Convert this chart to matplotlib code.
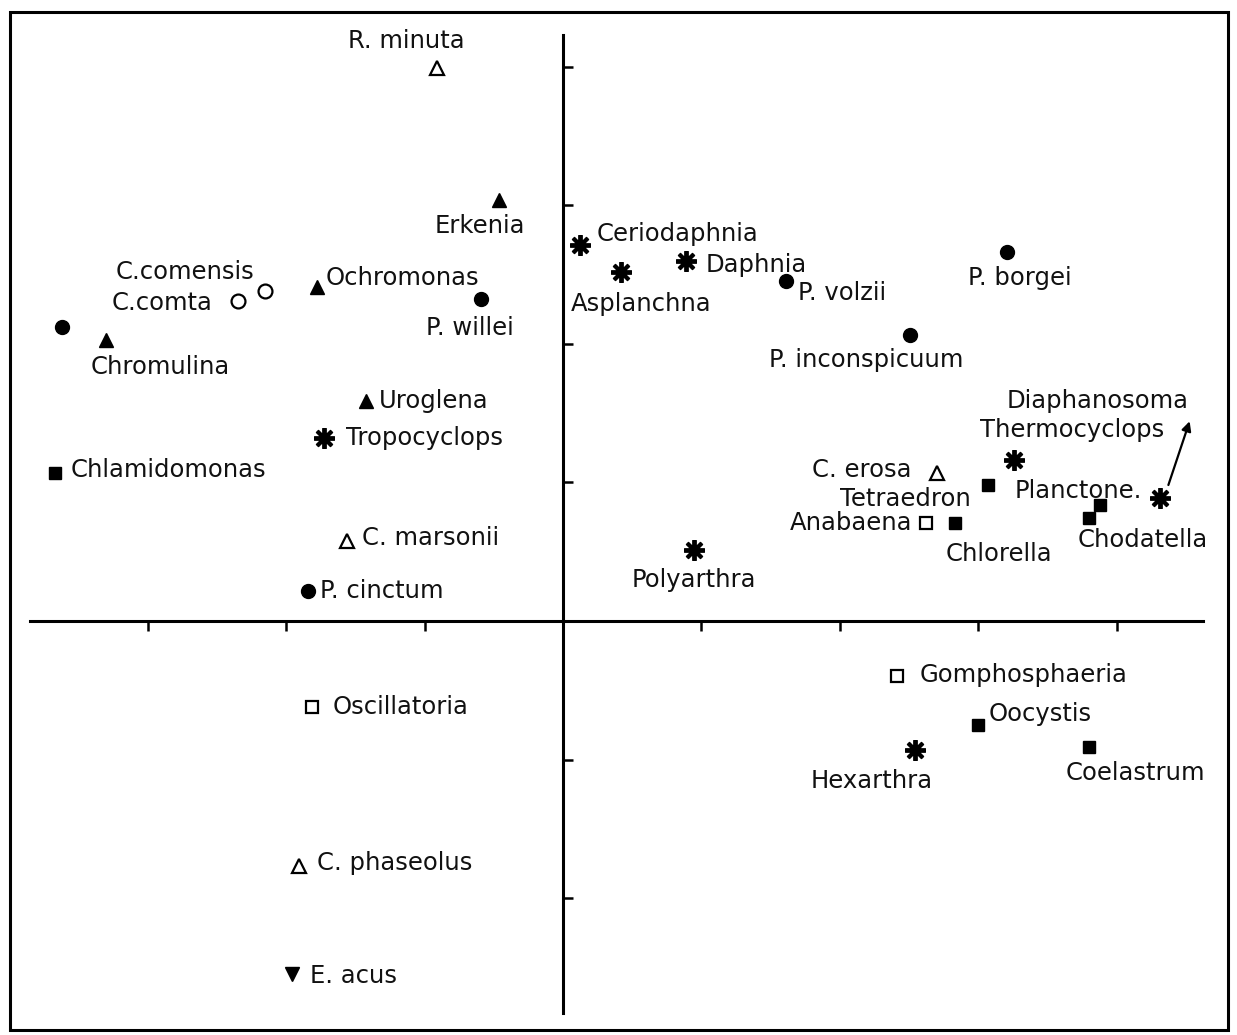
import matplotlib
matplotlib.use("Agg")
import matplotlib.pyplot as plt
from matplotlib.patches import Rectangle

# ---------------- data (ordination scores) ----------------
names = ["", "P. willei", "P. volzii", "P. borgei", "P. inconspicuum", "P. cinctum",
         "C.comensis", "C.comta",
         "Erkenia", "Ochromonas", "Chromulina", "Uroglena",
         "R. minuta", "C. marsonii", "C. erosa", "C. phaseolus",
         "Chlamidomonas", "Tetraedron", "Chlorella", "Planctone.", "Chodatella", "Oocystis", "Coelastrum",
         "Anabaena", "Gomphosphaeria", "Oscillatoria",
         "Ceriodaphnia", "Asplanchna", "Daphnia", "Tropocyclops", "Thermocyclops", "Diaphanosoma",
         "Polyarthra", "Hexarthra",
         "E. acus"]
axis1 = [-3.62, -0.59, 1.61, 3.21, 2.51, -1.84,
         -2.15, -2.35,
         -0.46, -1.78, -3.30, -1.42,
         -0.91, -1.56, 2.70, -1.91,
         -3.67, 3.07, 2.83, 3.88, 3.80, 3.00, 3.80,
         2.62, 2.41, -1.81,
         0.12, 0.42, 0.89, -1.73, 3.26, 4.31,
         0.95, 2.54,
         -1.96]
axis2 = [2.12, 2.32, 2.45, 2.66, 2.06, 0.22,
         2.38, 2.31,
         3.04, 2.41, 2.03, 1.59,
         3.99, 0.58, 1.07, -1.77,
         1.07, 0.98, 0.71, 0.84, 0.74, -0.75, -0.91,
         0.71, -0.40, -0.62,
         2.71, 2.52, 2.60, 1.32, 1.16, 0.89,
         0.51, -0.93,
         -2.55]
groups = ["dino"] * 6 + ["opencirc"] * 2 + ["chryso"] * 4 + ["opentri"] * 4 + \
         ["chloro"] * 7 + ["cyano"] * 3 + ["zoo"] * 8 + ["eugl"]

# ---------------- styles / layout ----------------
styles = {
    "dino":     dict(marker="o", ms=10, mfc="black", mec="black", mew=1),
    "opencirc": dict(marker="o", ms=10, mfc="white", mec="black", mew=1.6),
    "chryso":   dict(marker="^", ms=10, mfc="black", mec="black", mew=1),
    "opentri":  dict(marker="^", ms=10, mfc="white", mec="black", mew=1.6),
    "chloro":   dict(marker="s", ms=8, mfc="black", mec="black", mew=1),
    "cyano":    dict(marker="s", ms=9, mfc="white", mec="black", mew=1.6),
    "zoo":      dict(marker=(8, 2, 0), ms=15, mfc="black", mec="black", mew=2.8),
    "eugl":     dict(marker="v", ms=10, mfc="black", mec="black", mew=1),
}
# label offsets in pixels (dx, dy up) and horizontal alignment
label_pos = {
    "P. willei": (-55, -29, "left"), "P. volzii": (12, -12, "left"),
    "P. borgei": (-39, -26, "left"), "P. inconspicuum": (-141, -25, "left"),
    "P. cinctum": (12, 0, "left"), "C.comensis": (-11, 19, "right"),
    "C.comta": (-25, -2, "right"), "Erkenia": (-19, -26, "center"),
    "Ochromonas": (9, 9, "left"), "Chromulina": (-16, -27, "left"),
    "Uroglena": (12, 0, "left"), "R. minuta": (-31, 27, "center"),
    "C. marsonii": (15, 3, "left"), "C. erosa": (-25, 3, "right"),
    "C. phaseolus": (18, 3, "left"), "Chlamidomonas": (16, 3, "left"),
    "Tetraedron": (-17, -14, "right"), "Chlorella": (-9, -31, "left"),
    "Planctone.": (-85, 14, "left"), "Chodatella": (-11, -22, "left"),
    "Oocystis": (10, 11, "left"), "Coelastrum": (-23, -26, "left"),
    "Anabaena": (-13, 0, "right"), "Gomphosphaeria": (23, 1, "left"),
    "Oscillatoria": (20, 0, "left"), "Ceriodaphnia": (17, 11, "left"),
    "Asplanchna": (-50, -32, "left"), "Daphnia": (19, -4, "left"),
    "Tropocyclops": (22, 0, "left"), "Thermocyclops": (-34, 30, "left"),
    "Diaphanosoma": (-153, 97, "left"), "Polyarthra": (-63, -30, "left"),
    "Hexarthra": (-104, -31, "left"), "E. acus": (18, -2, "left"),
}

W, H = 1237, 1035
ox, oy = 563, 621          # origin in pixels
sx, sy = 138.4, 138.6      # pixels per unit
PT = 0.72                  # points per pixel at dpi 100

plt.rcParams["font.family"] = ["DejaVu Sans"]
fig = plt.figure(figsize=(W / 100, H / 100), dpi=100)
ax = fig.add_axes([0, 0, 1, 1])
ax.set_xlim(-ox / sx, (W - ox) / sx)
ax.set_ylim(-(H - oy) / sy, oy / sy)

for n, x, y, g in zip(names, axis1, axis2, groups):
    ax.plot([x], [y], linestyle="none", zorder=3, **styles[g])
    if n:
        dx, dy, ha = label_pos[n]
        ax.annotate(n, (x, y), xytext=(dx * PT, dy * PT), textcoords="offset points",
                    ha=ha, va="center", fontsize=17.5, color="#111111")

# arrow for Diaphanosoma
i = names.index("Diaphanosoma")
ax.annotate("", xy=(axis1[i] + 31 / sx, axis2[i] + 79 / sy),
            xytext=(axis1[i] + 8 / sx, axis2[i] + 10 / sy),
            arrowprops=dict(arrowstyle="-|>", lw=1.6, color="black", mutation_scale=14))

# axes through the origin
for s in ["top", "right"]:
    ax.spines[s].set_visible(False)
ax.spines["left"].set_position(("data", 0))
ax.spines["bottom"].set_position(("data", 0))
ax.spines["left"].set_bounds((oy - 1013) / sy, (oy - 35) / sy)
ax.spines["bottom"].set_bounds((30 - ox) / sx, (1203 - ox) / sx)
ax.spines["left"].set_linewidth(2.2)
ax.spines["bottom"].set_linewidth(2.2)
ax.set_xticks([-3, -2, -1, 1, 2, 3, 4])
ax.set_yticks([-2, -1, 1, 2, 3, 4])
ax.tick_params(axis="x", direction="out", length=7, width=1.8, labelbottom=False)
ax.tick_params(axis="y", direction="in", length=7, width=1.8, labelleft=False)
ax.patch.set_visible(False)

# outer frame
fig.patches.append(Rectangle((10 / W, 5 / H), (1228 - 10) / W, (1030 - 12) / H,
                             transform=fig.transFigure, fill=False, lw=2.2, color="black"))

fig.savefig("out.png", dpi=100, facecolor="white")
